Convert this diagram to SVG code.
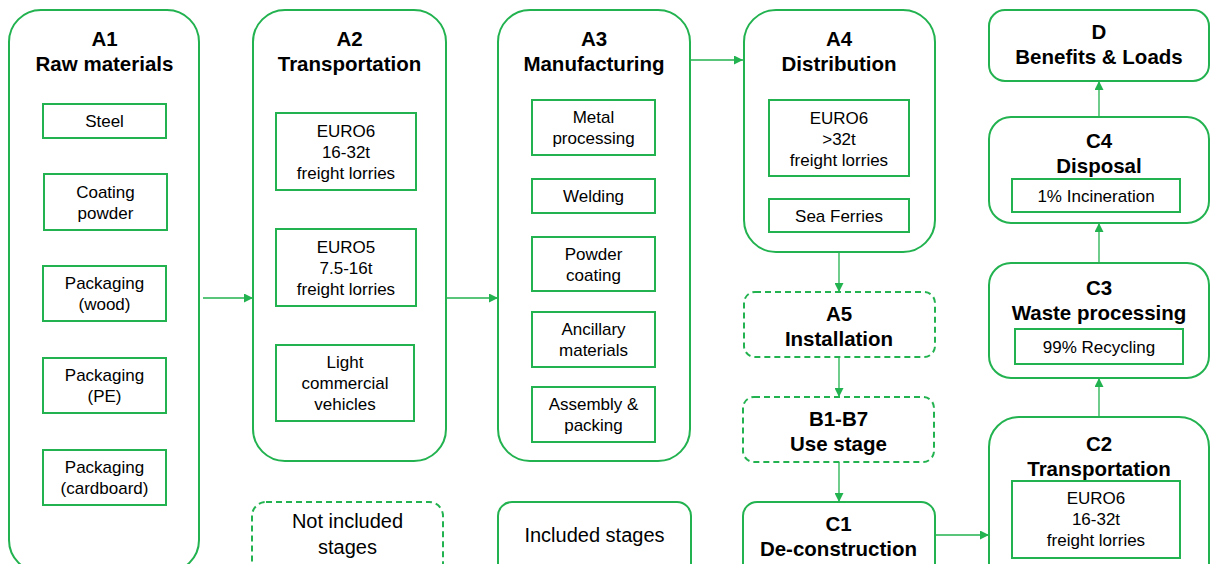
<svg xmlns="http://www.w3.org/2000/svg" width="1210" height="564" viewBox="0 0 1210 564">
<style>
.o{fill:#fff;stroke:#22b24f;stroke-width:2}
.d{fill:#fff;stroke:#22b24f;stroke-width:2;stroke-dasharray:6 4}
.i{fill:#fff;stroke:#22b24f;stroke-width:2}
.t{font-family:"Liberation Sans",Arial,sans-serif;font-weight:bold;font-size:20.5px;fill:#000;text-anchor:middle}
.s{font-family:"Liberation Sans",Arial,sans-serif;font-size:17px;fill:#000;text-anchor:middle}
.l{font-family:"Liberation Sans",Arial,sans-serif;font-size:20px;fill:#000;text-anchor:middle}
.c{fill:none;stroke:#22b24f;stroke-width:1.3;marker-end:url(#ah)}
</style>
<defs>
<marker id="ah" viewBox="0 0 10 10" refX="10" refY="5" markerWidth="10" markerHeight="9" markerUnits="userSpaceOnUse" orient="auto">
<path d="M0,0 L10,5 L0,10 Z" fill="#22b24f"/>
</marker>
</defs>
<rect width="1210" height="564" fill="#fff"/>
<g id="connectors">
<line class="c" x1="203" y1="298" x2="253" y2="298"/>
<line class="c" x1="446" y1="298" x2="498" y2="298"/>
<line class="c" x1="690" y1="60" x2="743" y2="60"/>
<line class="c" x1="839" y1="252" x2="839" y2="292"/>
<line class="c" x1="839" y1="357" x2="839" y2="397"/>
<line class="c" x1="839" y1="462" x2="839" y2="502"/>
<line class="c" x1="935" y1="535" x2="989" y2="535"/>
<line class="c" x1="1099" y1="417" x2="1099" y2="378"/>
<line class="c" x1="1099" y1="263" x2="1099" y2="223"/>
<line class="c" x1="1099" y1="117" x2="1099" y2="81"/>
</g>
<g id="A1">
<rect class="o" x="9" y="10" width="190" height="562" rx="32"/>
<text class="t" x="104.5" y="46">A1</text>
<text class="t" x="104.5" y="71">Raw materials</text>
<rect class="i" x="43" y="104" width="123" height="34"/>
<text class="s" x="104.5" y="127">Steel</text>
<rect class="i" x="44" y="174" width="123" height="56"/>
<text class="s" x="105.5" y="198">Coating</text>
<text class="s" x="105.5" y="219">powder</text>
<rect class="i" x="43" y="266" width="123" height="55"/>
<text class="s" x="104.5" y="289">Packaging</text>
<text class="s" x="104.5" y="310">(wood)</text>
<rect class="i" x="43" y="358" width="123" height="55"/>
<text class="s" x="104.5" y="381">Packaging</text>
<text class="s" x="104.5" y="402">(PE)</text>
<rect class="i" x="43" y="450" width="123" height="55"/>
<text class="s" x="104.5" y="473">Packaging</text>
<text class="s" x="104.5" y="494">(cardboard)</text>
</g>
<g id="A2">
<rect class="o" x="253" y="10" width="193" height="451" rx="32"/>
<text class="t" x="349.5" y="46">A2</text>
<text class="t" x="349.5" y="71">Transportation</text>
<rect class="i" x="276" y="113" width="140" height="77"/>
<text class="s" x="346" y="137">EURO6</text>
<text class="s" x="346" y="158">16-32t</text>
<text class="s" x="346" y="179">freight lorries</text>
<rect class="i" x="276" y="229" width="140" height="77"/>
<text class="s" x="346" y="253">EURO5</text>
<text class="s" x="346" y="274">7.5-16t</text>
<text class="s" x="346" y="295">freight lorries</text>
<rect class="i" x="276" y="345" width="138" height="76"/>
<text class="s" x="345" y="368">Light</text>
<text class="s" x="345" y="389">commercial</text>
<text class="s" x="345" y="410">vehicles</text>
</g>
<g id="A3">
<rect class="o" x="498" y="10" width="192" height="451" rx="32"/>
<text class="t" x="594" y="46">A3</text>
<text class="t" x="594" y="71">Manufacturing</text>
<rect class="i" x="532" y="100" width="123" height="55"/>
<text class="s" x="593.5" y="123">Metal</text>
<text class="s" x="593.5" y="144">processing</text>
<rect class="i" x="532" y="179" width="123" height="34"/>
<text class="s" x="593.5" y="202">Welding</text>
<rect class="i" x="532" y="237" width="123" height="54"/>
<text class="s" x="593.5" y="260">Powder</text>
<text class="s" x="593.5" y="281">coating</text>
<rect class="i" x="532" y="312" width="123" height="55"/>
<text class="s" x="593.5" y="335">Ancillary</text>
<text class="s" x="593.5" y="356">materials</text>
<rect class="i" x="532" y="387" width="123" height="55"/>
<text class="s" x="593.5" y="410">Assembly &amp;</text>
<text class="s" x="593.5" y="431">packing</text>
</g>
<g id="A4">
<rect class="o" x="744" y="10" width="191" height="242" rx="32"/>
<text class="t" x="839" y="46">A4</text>
<text class="t" x="839" y="71">Distribution</text>
<rect class="i" x="769" y="100" width="140" height="76"/>
<text class="s" x="839" y="124">EURO6</text>
<text class="s" x="839" y="145">&gt;32t</text>
<text class="s" x="839" y="166">freight lorries</text>
<rect class="i" x="769" y="199" width="140" height="33"/>
<text class="s" x="839" y="222">Sea Ferries</text>
</g>
<g id="A5">
<rect class="d" x="744" y="292" width="191" height="65" rx="11"/>
<text class="t" x="839" y="321">A5</text>
<text class="t" x="839" y="346">Installation</text>
</g>
<g id="B1-B7">
<rect class="d" x="743" y="397" width="191" height="65" rx="11"/>
<text class="t" x="838.5" y="426">B1-B7</text>
<text class="t" x="838.5" y="451">Use stage</text>
</g>
<g id="C1">
<rect class="o" x="743" y="502" width="192" height="80" rx="14"/>
<text class="t" x="838.5" y="531">C1</text>
<text class="t" x="838.5" y="556">De-construction</text>
</g>
<g id="C2">
<rect class="o" x="989" y="417" width="220" height="180" rx="30"/>
<text class="t" x="1099" y="451">C2</text>
<text class="t" x="1099" y="476">Transportation</text>
<rect class="i" x="1012" y="481" width="168" height="77"/>
<text class="s" x="1096" y="504">EURO6</text>
<text class="s" x="1096" y="525">16-32t</text>
<text class="s" x="1096" y="546">freight lorries</text>
</g>
<g id="C3">
<rect class="o" x="989" y="263" width="220" height="115" rx="22"/>
<text class="t" x="1099" y="295">C3</text>
<text class="t" x="1099" y="320">Waste processing</text>
<rect class="i" x="1015" y="329" width="168" height="35"/>
<text class="s" x="1099" y="353">99% Recycling</text>
</g>
<g id="C4">
<rect class="o" x="989" y="117" width="220" height="106" rx="22"/>
<text class="t" x="1099" y="148">C4</text>
<text class="t" x="1099" y="173">Disposal</text>
<rect class="i" x="1012" y="179" width="168" height="33"/>
<text class="s" x="1096" y="202">1% Incineration</text>
</g>
<g id="D">
<rect class="o" x="989" y="10" width="220" height="71" rx="16"/>
<text class="t" x="1099" y="39">D</text>
<text class="t" x="1099" y="64">Benefits &amp; Loads</text>
</g>
<g id="legend-not-included">
<rect class="d" x="252" y="502" width="191" height="80" rx="14"/>
<text class="l" x="347.5" y="528">Not included</text>
<text class="l" x="347.5" y="554">stages</text>
</g>
<g id="legend-included">
<rect class="o" x="498" y="502" width="193" height="80" rx="14"/>
<text class="l" x="594.5" y="542">Included stages</text>
</g>
</svg>
